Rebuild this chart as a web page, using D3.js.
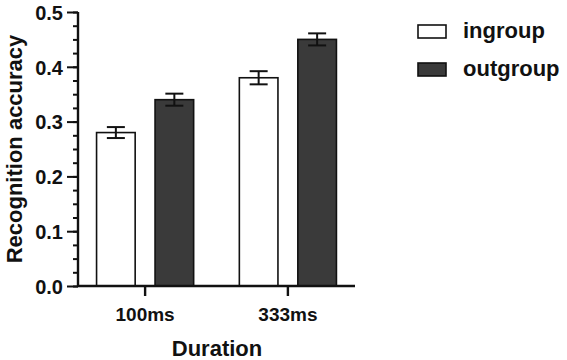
<!DOCTYPE html>
<html>
<head>
<meta charset="utf-8">
<script src="https://cdn.jsdelivr.net/npm/d3@7"></script>
<style>
  body { margin: 0; background: #fff; }
  svg { display: block; font-family: "Liberation Sans", Arial, sans-serif; font-weight: bold; }
</style>
</head>
<body>
<div id="chart"></div>
<script>
// data
var durations = ["100ms", "333ms"];
var groups = ["ingroup", "outgroup"];
var ingroupMean = [0.28, 0.38];
var outgroupMean = [0.34, 0.45];
var ingroupErr = [0.010, 0.012];
var outgroupErr = [0.011, 0.011];
var yTicks = [0.0, 0.1, 0.2, 0.3, 0.4, 0.5];

var colors = { ingroup: "#ffffff", outgroup: "#3a3a3a" };

function createChart() {
  var width = 567, height = 360;
  var margin = { top: 12, left: 78, bottom: 74, right: 212 };

  var svg = d3.select("#chart").append("svg")
    .attr("width", width)
    .attr("height", height);

  var y = d3.scaleLinear()
    .domain([0, 0.5])
    .range([height - margin.bottom, margin.top]);

  var x0 = d3.scaleBand()
    .domain(durations)
    .range([margin.left, width - margin.right])
    .paddingInner(0.32)
    .paddingOuter(0.13);

  var x1 = d3.scaleBand()
    .domain(groups)
    .range([0, x0.bandwidth()])
    .paddingInner(0.34);

  var rows = [];
  durations.forEach(function (d, i) {
    rows.push({ dur: d, grp: "ingroup", v: ingroupMean[i], e: ingroupErr[i] });
    rows.push({ dur: d, grp: "outgroup", v: outgroupMean[i], e: outgroupErr[i] });
  });

  // bars
  svg.append("g")
    .selectAll("rect")
    .data(rows)
    .enter().append("rect")
    .attr("x", d => x0(d.dur) + x1(d.grp))
    .attr("y", d => y(d.v))
    .attr("width", x1.bandwidth())
    .attr("height", d => y(0) - y(d.v))
    .attr("fill", d => colors[d.grp])
    .attr("stroke", "#111")
    .attr("stroke-width", 1.6);

  // error bars
  var eb = svg.append("g")
    .attr("stroke", "#111")
    .attr("stroke-width", 2)
    .selectAll("g")
    .data(rows)
    .enter().append("g")
    .attr("transform", d => "translate(" + (x0(d.dur) + x1(d.grp) + x1.bandwidth() / 2) + ",0)");
  eb.append("line")
    .attr("y1", d => y(d.v + d.e)).attr("y2", d => y(d.v - d.e));
  eb.append("line")
    .attr("x1", -9).attr("x2", 9)
    .attr("y1", d => y(d.v + d.e)).attr("y2", d => y(d.v + d.e));
  eb.append("line")
    .attr("x1", -9).attr("x2", 9)
    .attr("y1", d => y(d.v - d.e)).attr("y2", d => y(d.v - d.e));

  // y axis: minor ticks then major
  var yAxis = svg.append("g")
    .attr("transform", "translate(" + margin.left + ",0)");
  yAxis.call(d3.axisLeft(y).tickValues(d3.range(0, 0.5001, 0.025)).tickSize(5).tickFormat(""))
    .call(g => g.select(".domain").remove())
    .selectAll("line").attr("stroke", "#111").attr("stroke-width", 2);
  var yMajor = svg.append("g")
    .attr("transform", "translate(" + margin.left + ",0)")
    .call(d3.axisLeft(y).tickValues(yTicks).tickSize(11).tickPadding(4).tickFormat(d3.format(".1f")));
  yMajor.select(".domain").attr("stroke", "#111").attr("stroke-width", 2.4)
    .attr("d", "M0," + y(0.5) + "V" + y(0));
  yMajor.selectAll("line").attr("stroke", "#111").attr("stroke-width", 2);
  yMajor.selectAll("text")
    .attr("font-size", 20).attr("font-weight", "bold").attr("fill", "#111")
    .attr("font-family", "Liberation Sans, Arial, sans-serif")
    .attr("dy", "0.36em");

  // x axis
  var xAxis = svg.append("g")
    .attr("transform", "translate(0," + y(0) + ")")
    .call(d3.axisBottom(x0).tickSize(10).tickPadding(12).tickSizeOuter(0));
  xAxis.select(".domain").attr("stroke", "#111").attr("stroke-width", 2.4)
    .attr("d", "M" + margin.left + ",0H" + (width - margin.right));
  xAxis.selectAll("line").attr("stroke", "#111").attr("stroke-width", 2.4);
  xAxis.selectAll("text")
    .attr("font-size", 19).attr("font-weight", "bold").attr("fill", "#111")
    .attr("font-family", "Liberation Sans, Arial, sans-serif");

  // axis titles
  svg.append("text")
    .attr("x", 217).attr("y", 356)
    .attr("text-anchor", "middle")
    .attr("font-size", 22)
    .attr("fill", "#111")
    .text("Duration");

  svg.append("text")
    .attr("transform", "translate(22," + ((y(0) + y(0.5)) / 2) + ") rotate(-90)")
    .attr("text-anchor", "middle")
    .attr("font-size", 22)
    .attr("fill", "#111")
    .text("Recognition accuracy");

  // legend
  var legend = svg.append("g")
    .selectAll("g")
    .data(groups)
    .enter().append("g")
    .attr("transform", (d, i) => "translate(418," + (25 + i * 38) + ")");
  legend.append("rect")
    .attr("width", 28).attr("height", 13)
    .attr("fill", d => colors[d])
    .attr("stroke", "#111")
    .attr("stroke-width", 1.6);
  legend.append("text")
    .attr("x", 45).attr("y", 13)
    .attr("font-size", 22)
    .attr("fill", "#111")
    .text(d => d);
}

createChart();
</script>
</body>
</html>
